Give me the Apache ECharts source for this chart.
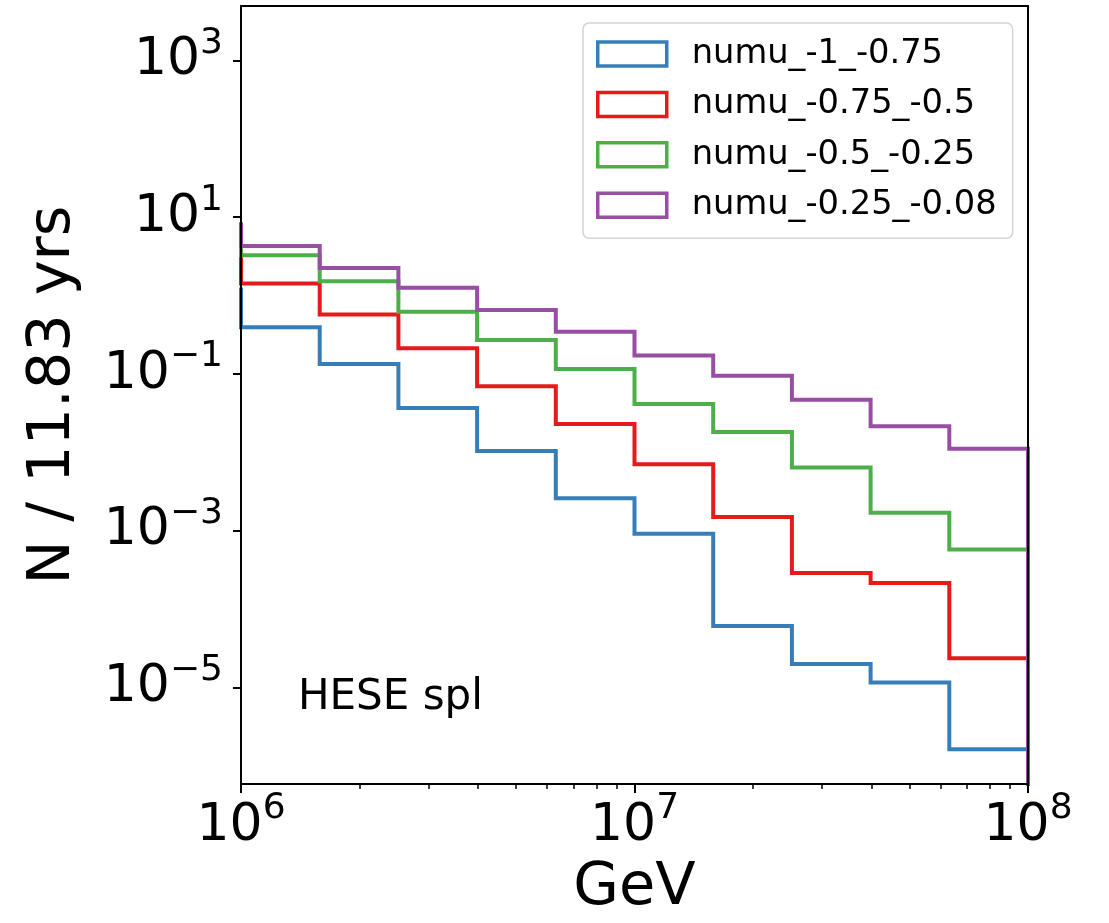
<!DOCTYPE html>
<html><head><meta charset="utf-8">
<script src="https://cdn.jsdelivr.net/npm/echarts@6/dist/echarts.min.js"></script>
<style>html,body{margin:0;padding:0;background:#fff}#c{width:1109px;height:923px}</style>
</head><body><div id="c"></div>
<script>
// ---- data ----
const binEdges = [630957, 1000000, 1584893, 2511886, 3981072, 6309573, 10000000, 15848932, 25118864, 39810717, 63095734, 100000000];
const seriesNames = ['numu_-1_-0.75', 'numu_-0.75_-0.5', 'numu_-0.5_-0.25', 'numu_-0.25_-0.08'];
const numu_m1_m075   = [1.2, 0.394, 0.134, 0.0369, 0.0104, 0.0026, 0.00092, 6.1e-5, 2.0e-5, 1.16e-5, 1.63e-6];
const numu_m075_m05  = [3.2, 1.43, 0.575, 0.213, 0.0697, 0.0231, 0.00705, 0.0015, 2.89e-4, 2.16e-4, 2.36e-5];
const numu_m05_m025  = [5.5, 3.26, 1.52, 0.622, 0.272, 0.116, 0.0415, 0.0182, 0.0064, 0.0017, 5.77e-4];
const numu_m025_m008 = [8.1, 4.29, 2.25, 1.26, 0.653, 0.347, 0.172, 0.0948, 0.0471, 0.0216, 0.0111];
const xMajorTicks = [1e6, 1e7, 1e8];
const xMinorTicks = [2e6, 3e6, 4e6, 5e6, 6e6, 7e6, 8e6, 9e6, 2e7, 3e7, 4e7, 5e7, 6e7, 7e7, 8e7, 9e7];
const yTickValues = [1e-5, 1e-3, 1e-1, 1e1, 1e3];
const xLabel = 'GeV';
const yLabel = 'N / 11.83 yrs';
const annotation = 'HESE spl';

// ---- styling ----
const colors = ['#377eb8', '#e41a1c', '#4daf4a', '#984ea3'];
const FONT = '"DejaVu Sans", "Liberation Sans", sans-serif';
const X_MIN = 1e6, X_MAX = 1e8;
const Y_MIN = 5.89e-7, Y_MAX = 4943;
const Y_BASE = Y_MIN / 10; // histogram baseline (below visible range)

const allVals = [numu_m1_m075, numu_m075_m05, numu_m05_m025, numu_m025_m008];

function stepPoints(vals) {
  const pts = vals.map((v, k) => [binEdges[k], v]);
  pts.push([binEdges[vals.length], Y_BASE]);
  return pts;
}

function powLabel(v) {
  const e = Math.round(Math.log10(v));
  const s = e < 0 ? '\u2212' + (-e) : String(e);
  return '{b|10}{s|' + s + '}';
}
const richPow = {
  b: { fontSize: 52, fontFamily: FONT, color: '#000', lineHeight: 70 },
  s: { fontSize: 36, fontFamily: FONT, color: '#000', lineHeight: 36, verticalAlign: 'top' }
};
const axisLineStyle = { color: '#000', width: 2 };

const chart = echarts.init(document.getElementById('c'), null, { renderer: 'canvas' });
chart.setOption({
  animation: false,
  backgroundColor: '#fff',
  grid: { left: 241, top: 6, right: 81, bottom: 135, containLabel: false },
  legend: {
    orient: 'vertical', left: 583, top: 23,
    padding: [14, 16, 16, 13],
    itemWidth: 69, itemHeight: 24, itemGap: 16.4,
    icon: 'rect',
    borderColor: '#d4d4d4', borderWidth: 1.5, borderRadius: 6,
    backgroundColor: 'rgba(255,255,255,0.8)',
    textStyle: { fontSize: 33.7, fontFamily: FONT, color: '#000', padding: [0, 0, 0, 20], lineHeight: 27 },
    data: seriesNames.map((n, i) => ({
      name: n,
      itemStyle: { color: 'rgba(0,0,0,0)', borderColor: colors[i], borderWidth: 3.5 },
      lineStyle: { opacity: 0 }
    }))
  },
  graphic: [{
    type: 'text', left: 298, top: 677, z: 10,
    style: { text: annotation, font: '42px ' + FONT, fill: '#000' }
  }],
  xAxis: [
    {
      type: 'log', logBase: 10, min: X_MIN, max: X_MAX, position: 'bottom', z: 5,
      axisLine: { show: true, onZero: false, lineStyle: axisLineStyle },
      axisTick: { show: true, customValues: xMajorTicks, length: 9, lineStyle: { color: '#000', width: 2 } },
      axisLabel: { show: true, customValues: xMajorTicks, margin: 7, formatter: powLabel, rich: richPow },
      splitLine: { show: false }, minorTick: { show: false },
      name: xLabel, nameLocation: 'middle', nameGap: 75,
      nameTextStyle: { fontSize: 59, fontFamily: FONT, color: '#000' }
    },
    {
      type: 'log', logBase: 10, min: X_MIN, max: X_MAX, position: 'bottom', z: 5,
      axisLine: { show: false },
      axisTick: { show: true, customValues: xMinorTicks, length: 5, lineStyle: { color: '#000', width: 1.5 } },
      axisLabel: { show: false }, splitLine: { show: false }
    },
    {
      type: 'log', logBase: 10, min: X_MIN, max: X_MAX, position: 'top', z: 5,
      axisLine: { show: true, onZero: false, lineStyle: axisLineStyle },
      axisTick: { show: false }, axisLabel: { show: false }, splitLine: { show: false }
    }
  ],
  yAxis: [
    {
      type: 'log', logBase: 10, min: Y_MIN, max: Y_MAX, position: 'left', z: 5,
      axisLine: { show: true, onZero: false, lineStyle: axisLineStyle },
      axisTick: { show: true, customValues: yTickValues, length: 8, lineStyle: { color: '#000', width: 2 } },
      axisLabel: { show: true, customValues: yTickValues, margin: 18, formatter: powLabel, rich: richPow },
      splitLine: { show: false }, minorTick: { show: false },
      name: yLabel, nameLocation: 'middle', nameGap: 158,
      nameTextStyle: { fontSize: 59, fontFamily: FONT, color: '#000' }
    },
    {
      type: 'log', logBase: 10, min: Y_MIN, max: Y_MAX, position: 'right', z: 5,
      axisLine: { show: true, onZero: false, lineStyle: axisLineStyle },
      axisTick: { show: false }, axisLabel: { show: false }, splitLine: { show: false }
    }
  ],
  series: allVals.map((vals, i) => ({
    type: 'line', name: seriesNames[i],
    xAxisIndex: 0, yAxisIndex: 0,
    data: stepPoints(vals),
    step: 'end', symbol: 'none', showSymbol: false, clip: true,
    lineStyle: { width: 4, color: colors[i], join: 'miter' },
    itemStyle: { color: colors[i] },
    z: 2
  }))
});
</script></body></html>
